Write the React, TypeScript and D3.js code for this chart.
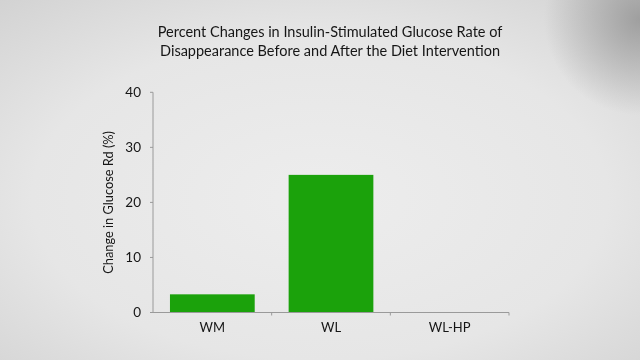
import React from "react";
import * as d3 from "d3";

const categories = ["WM", "WL", "WL-HP"];
const values = [3.3, 25, 0];
const yTicks = [0, 10, 20, 30, 40];
const titleLines = [
  "Percent Changes in Insulin-Stimulated Glucose Rate of",
  "Disappearance Before and After the Diet Intervention",
];
const yLabel = "Change in Glucose Rd (%)";

export default function App() {
  const W = 640, H = 360;
  const left = 153, right = 509, top = 92.3, bottom = 312.5;
  const x = d3.scaleBand<string>().domain(categories).range([left, right]).paddingInner(0.286).paddingOuter(0.143);
  const y = d3.scaleLinear().domain([0, 40]).range([bottom, top]);
  const band = d3.scaleBand<string>().domain(categories).range([left, right]);
  const font = "Lato, 'Open Sans', sans-serif";
  const textCol = "#161616";
  return (
    <svg width={W} height={H} style={{ position: "fixed", left: 0, top: 0 }} fontFamily={font}>
      <defs>
        <radialGradient id="bg" cx="0.5" cy="0.55" r="0.75">
          <stop offset="0" stopColor="#ededed" />
          <stop offset="0.6" stopColor="#e6e6e6" />
          <stop offset="1" stopColor="#d2d2d2" />
        </radialGradient>
        <radialGradient id="tr" cx="1" cy="0.03" r="0.15" gradientTransform="scale(1,1.78)">
          <stop offset="0" stopColor="#9c9c9c" stopOpacity="0.95" />
          <stop offset="1" stopColor="#9c9c9c" stopOpacity="0" />
        </radialGradient>
      </defs>
      <rect width={W} height={H} fill="url(#bg)" />
      <rect width={W} height={H} fill="url(#tr)" />
      {titleLines.map((t, i) => (
        <text key={i} x={330} y={37 + i * 18.5} textAnchor="middle" fontSize={14.5} fill={textCol}>{t}</text>
      ))}
      <text transform={`translate(113,${(top + bottom) / 2}) rotate(-90)`} textAnchor="middle" fontSize={12.8} fill={textCol}>{yLabel}</text>
      {categories.map((c, i) => (
        <rect key={c} x={x(c)} width={x.bandwidth()} y={y(values[i])} height={bottom - y(values[i])} fill="#1ba20b" />
      ))}
      <line x1={left} x2={left} y1={top} y2={bottom} stroke="#9a9a9a" strokeWidth={1} />
      <line x1={left} x2={right} y1={bottom} y2={bottom} stroke="#9a9a9a" strokeWidth={1} />
      {yTicks.map((t) => (
        <g key={t}>
          <line x1={left - 3} x2={left} y1={y(t)} y2={y(t)} stroke="#9a9a9a" />
          <text x={141} y={y(t)} dy="0.35em" textAnchor="end" fontSize={13.5} fill={textCol}>{t}</text>
        </g>
      ))}
      {categories.map((c) => (
        <g key={c}>
          <line x1={(band(c) as number) + band.bandwidth()} x2={(band(c) as number) + band.bandwidth()} y1={bottom} y2={bottom + 3} stroke="#9a9a9a" />
          <text x={(band(c) as number) + band.bandwidth() / 2} y={332} textAnchor="middle" fontSize={13} fill={textCol}>{c}</text>
        </g>
      ))}
    </svg>
  );
}
